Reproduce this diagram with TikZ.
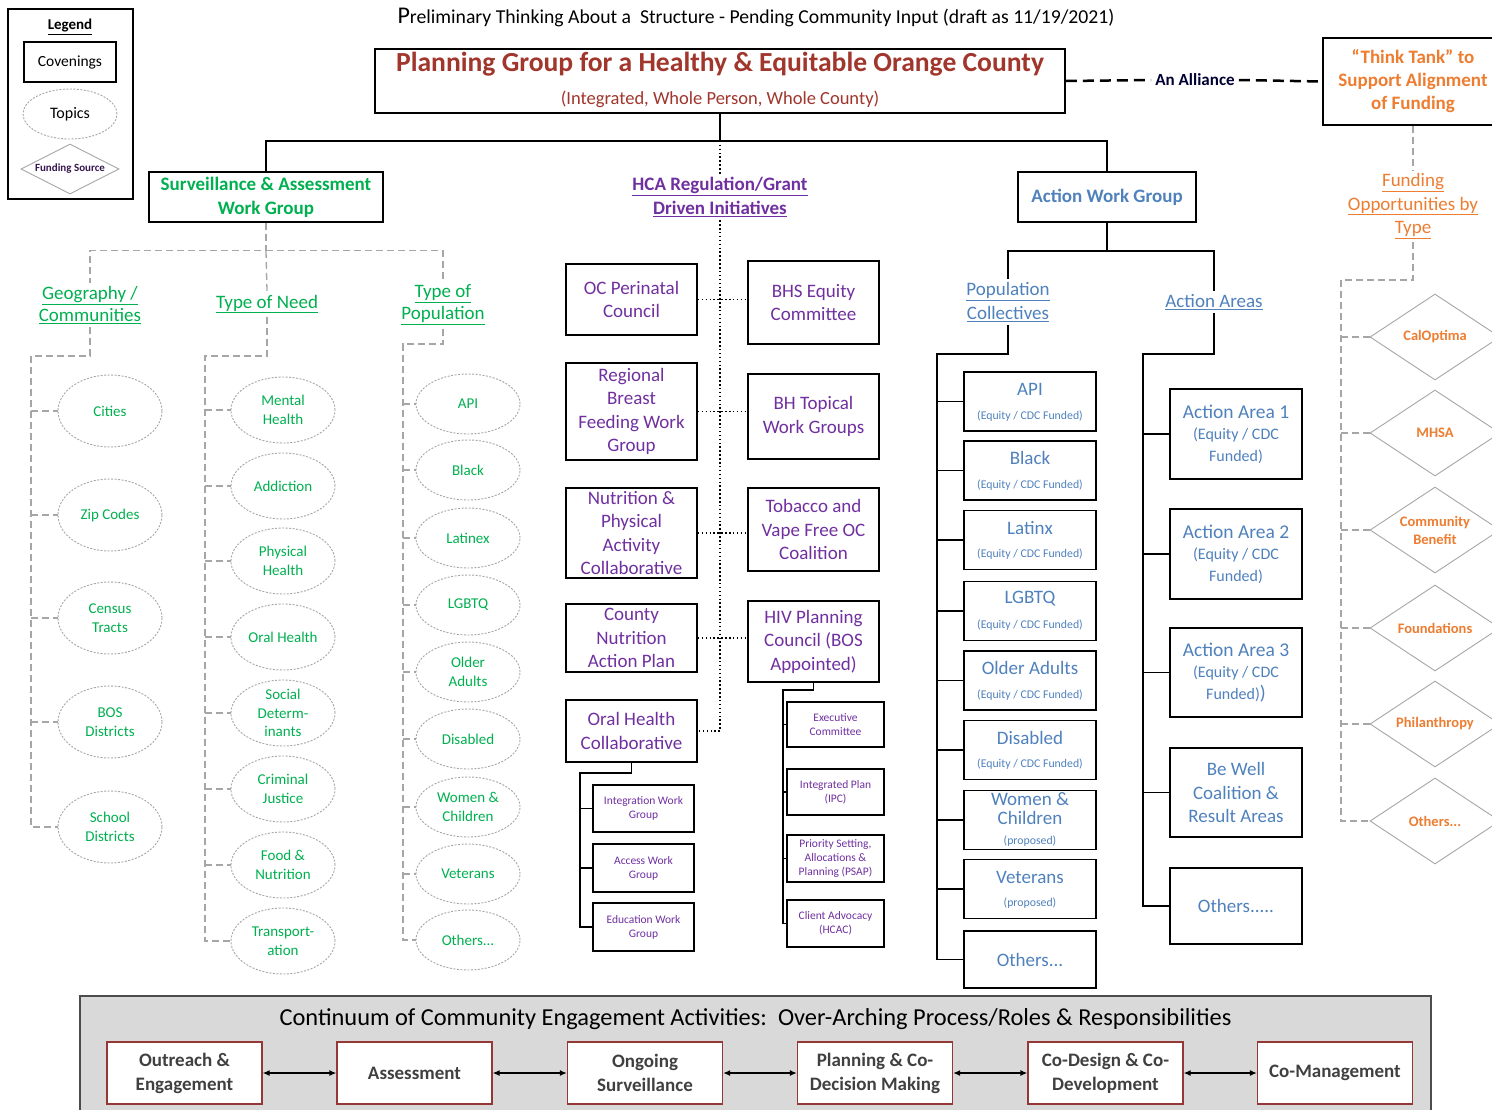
\documentclass[tikz,border=0pt]{standalone}
\usepackage{fontspec}
\setmainfont{Carlito}
\usetikzlibrary{shapes.geometric,arrows.meta}
\definecolor{tred}{RGB}{160,54,44}
\definecolor{tgreen}{RGB}{0,176,80}
\definecolor{tpurple}{RGB}{112,48,160}
\definecolor{tblue}{RGB}{79,129,189}
\definecolor{torange}{RGB}{237,125,49}
\definecolor{tgray}{RGB}{166,166,166}
\definecolor{bred}{RGB}{149,55,53}
\definecolor{panel}{RGB}{217,217,217}
\definecolor{tdark}{RGB}{64,64,64}
\newcommand\fsz[2]{\fontsize{#1}{#2}\selectfont}
\tikzset{
 box/.style={draw=black, line width=1.6pt, fill=white, align=center, inner sep=0pt},
 topic/.style={ellipse, draw=tgray, dash pattern=on 2pt off 1.5pt, line width=0.9pt, inner sep=0pt, minimum width=104},
 topictext/.style={text=tgreen, align=center, font=\fsz{15}{18.5}},
 fund/.style={diamond, draw=tgray, line width=0.9pt, inner sep=0pt, minimum width=130, minimum height=86},
 fundtext/.style={text=torange, align=center, font=\bfseries\fsz{14.5}{18}},
 tree/.style={draw=black, line width=1.5pt},
 gline/.style={draw=tgray, line width=1.3pt, dash pattern=on 7pt off 4pt},
 dline/.style={draw=black, line width=1.5pt, dash pattern=on 1.5pt off 2.4pt},
 hcabox/.style={box, text=tpurple, font=\fsz{19}{23.5}, minimum width=131},
 hcasub/.style={box, text=tpurple, font=\fsz{11.5}{14}},
 cbox/.style={draw=bred, line width=1.3pt, fill=white, align=center, inner sep=0pt, text=tdark, font=\bfseries\fsz{19}{24}, minimum width=155, minimum height=62},
 arr/.style={line width=1.3pt, {Latex[length=7pt,width=6pt]}-{Latex[length=7pt,width=6pt]}},
 alliance/.style={line width=2.5pt, dash pattern=on 11pt off 6pt},
}
\newcommand\popbox[4]{%
 \node[box, minimum width=132, minimum height=59] (#1) at (1030,#2) {};
 \node[text=tblue, font=\fsz{19}{22}] (#1t) at ([yshift=12.5pt]#1.center) {#3};
 \node[text=tblue, font=\fsz{11.8}{13}] (#1s) at ([yshift=-14.5pt]#1.center) {#4};}
\begin{document}
\begin{tikzpicture}[x=1pt,y=-1pt]
\useasboundingbox (0,0) rectangle (1492,1109);
\fill[white] (0,0) rectangle (1492,1109);

% Legend
\node[draw=black, line width=1.4pt, minimum width=125, minimum height=190, inner sep=0pt] (legend) at (70.5,104) {};
\node[font=\bfseries\fsz{15}{18}] (legendt) at (70,27) {\underline{Legend}};
\node[box, minimum width=92, minimum height=40, font=\fsz{15.5}{18}] (lcov) at (70,62) {Covenings};
\node[topic, minimum width=94, minimum height=50, label={[font=\fsz{16}{18}]center:Topics}] (ltop) at (70,114) {};
\node[fund, minimum width=98, minimum height=50, label={[font=\bfseries\fsz{11}{13}, text=tpurple!50!black]center:Funding Source}] (lfund) at (70,169) {};

% Title
\node[font=\fsz{19.7}{22}] (title) at (756,17) {{\fsz{24}{22}P}reliminary Thinking About a\ \ Structure - Pending Community Input (draft as 11/19/2021)};

% Main box
\node[box, minimum width=690, minimum height=64] (main) at (720,81) {};
\node[text=tred, font=\bfseries\fsz{27.6}{30}] (maint) at (720,64) {Planning Group for a Healthy \& Equitable Orange County};
\node[text=tred, font=\fsz{18.5}{20}] (mains) at (720,99) {(Integrated, Whole Person, Whole County)};

% Think tank
\node[box, minimum width=180, minimum height=87, text=torange, font=\bfseries\fsz{19}{23}] (tt) at (1413,81.5) {“Think Tank” to\\Support Alignment\\of Funding};
\node[font=\bfseries\fsz{17}{20}, text=black!80!blue, inner sep=4pt] (alli) at (1195,80) {An Alliance};
\draw[alliance] (main.east) -- (alli.west);
\draw[alliance] (alli.east) -- (tt.west);

% Level 1
\node[box, minimum width=234, minimum height=50, text=tgreen, font=\bfseries\fsz{19}{24}] (sa) at (266,197) {Surveillance \& Assessment\\Work Group};
\node[box, minimum width=178, minimum height=50, text=tblue, font=\bfseries\fsz{19}{24}] (awg) at (1107,197) {Action Work Group};
\node[text=tpurple, font=\bfseries\fsz{19}{24}, align=center] (hca) at (720,197) {\underline{HCA Regulation/Grant}\\\underline{Driven Initiatives}};
\draw[tree] (main.south) -- ++(0,27) coordinate (tj) -| (sa.north);
\draw[tree] (tj) -| (awg.north);
\draw[dline] (tj) -- (hca.north);

% Funding opportunities
\node[text=torange, font=\fsz{19}{23.5}, align=center] (fot) at (1413,206) {\underline{Funding}\\\underline{Opportunities by}\\\underline{Type}};
\draw[gline] (fot.north |- tt.south) -- (fot.north);
\coordinate (fj) at (1341,280);
\node[fund, label={[fundtext]center:CalOptima}] (f1) at (1435,337) {};
\node[fund, label={[fundtext]center:MHSA}] (f2) at (1435,433) {};
\node[fund, label={[fundtext]center:Community\\Benefit}] (f3) at (1435,530) {};
\node[fund, label={[fundtext]center:Foundations}] (f4) at (1435,628) {};
\node[fund, label={[fundtext]center:Philanthropy}] (f5) at (1435,724) {};
\node[fund, label={[fundtext]center:Others...}] (f6) at (1435,821) {};
\draw[gline] (fot.south) |- (fj) |- (f6.west);
\foreach \i in {1,...,5} {\draw[gline] (f\i.west -| fj) -- (f\i.west);}

% Surveillance subtree
\node[text=tgreen, font=\fsz{19}{22}, align=center] (geo) at (90,305) {\underline{Geography /}\\\underline{Communities}};
\node[text=tgreen, font=\fsz{19}{22}, align=center] (need) at (267,304) {\underline{Type of Need}};
\node[text=tgreen, font=\fsz{19}{22}, align=center] (pop) at (443,305) {\underline{Type of}\\\underline{Population}};
\draw[gline] (sa.south) -- ++(0,28) coordinate (sj) -| (geo.north);
\draw[gline] (sj) -| (pop.north);
\draw[gline] (sj) -- (need.north);

\node[topic, minimum height=72, label={[topictext]center:Cities}] (g1) at (110,411) {};
\node[topic, minimum height=72, label={[topictext]center:Zip Codes}] (g2) at (110,515) {};
\node[topic, minimum height=72, label={[topictext]center:Census\\Tracts}] (g3) at (110,618) {};
\node[topic, minimum height=72, label={[topictext]center:BOS\\Districts}] (g4) at (110,722) {};
\node[topic, minimum height=72, label={[topictext]center:School\\Districts}] (g5) at (110,827) {};
\coordinate (gj) at (31,356);
\draw[gline] (geo.south) |- (gj) |- (g5.west);
\foreach \i in {1,...,4} {\draw[gline] (g\i.west -| gj) -- (g\i.west);}

\node[topic, minimum height=66, label={[topictext]center:Mental\\Health}] (n1) at (283,410) {};
\node[topic, minimum height=66, label={[topictext]center:Addiction}] (n2) at (283,486) {};
\node[topic, minimum height=66, label={[topictext]center:Physical\\Health}] (n3) at (283,561) {};
\node[topic, minimum height=66, label={[topictext]center:Oral Health}] (n4) at (283,637) {};
\node[topic, minimum height=66, label={[topictext]center:Social\\Determ-\\inants}] (n5) at (283,713) {};
\node[topic, minimum height=66, label={[topictext]center:Criminal\\Justice}] (n6) at (283,789) {};
\node[topic, minimum height=66, label={[topictext]center:Food \&\\Nutrition}] (n7) at (283,865) {};
\node[topic, minimum height=66, label={[topictext]center:Transport-\\ation}] (n8) at (283,941) {};
\coordinate (nj) at (205,356);
\draw[gline] (need.south) |- (nj) |- (n8.west);
\foreach \i in {1,...,7} {\draw[gline] (n\i.west -| nj) -- (n\i.west);}

\node[topic, minimum height=60, label={[topictext]center:API}] (q1) at (468,404) {};
\node[topic, minimum height=60, label={[topictext]center:Black}] (q2) at (468,470) {};
\node[topic, minimum height=60, label={[topictext]center:Latinex}] (q3) at (468,538) {};
\node[topic, minimum height=60, label={[topictext]center:LGBTQ}] (q4) at (468,605) {};
\node[topic, minimum height=60, label={[topictext]center:Older\\Adults}] (q5) at (468,672) {};
\node[topic, minimum height=60, label={[topictext]center:Disabled}] (q6) at (468,739) {};
\node[topic, minimum height=60, label={[topictext]center:Women \&\\Children}] (q7) at (468,807) {};
\node[topic, minimum height=60, label={[topictext]center:Veterans}] (q8) at (468,874) {};
\node[topic, minimum height=60, label={[topictext]center:Others...}] (q9) at (468,940) {};
\coordinate (qj) at (403,344);
\draw[gline] (pop.south) |- (qj) |- (q9.west);
\foreach \i in {1,...,8} {\draw[gline] (q\i.west -| qj) -- (q\i.west);}

% HCA column
\node[hcabox, minimum height=71] (oc) at (631.5,299.5) {OC Perinatal\\Council};
\node[hcabox, minimum height=97] (rb) at (631.5,411.5) {Regional\\Breast\\Feeding Work\\Group};
\node[hcabox, minimum height=90] (np) at (631.5,533) {Nutrition \&\\Physical\\Activity\\Collaborative};
\node[hcabox, minimum height=68] (cn) at (631.5,638) {County\\Nutrition\\Action Plan};
\node[hcabox, minimum height=62] (oral) at (631.5,731) {Oral Health\\Collaborative};
\node[hcabox, minimum height=83] (bhs) at (813.5,302.5) {BHS Equity\\Committee};
\node[hcabox, minimum height=85] (bht) at (813.5,416.5) {BH Topical\\Work Groups};
\node[hcabox, minimum height=83] (tob) at (813.5,529.5) {Tobacco and\\Vape Free OC\\Coalition};
\node[hcabox, minimum height=81] (hiv) at (813.5,641.5) {HIV Planning\\Council (BOS\\Appointed)};
\draw[dline] (oc.east) -- (bhs.west |- oc.east);
\draw[dline] (rb.east) -- (bht.west |- rb.east);
\draw[dline] (np.east) -- (tob.west |- np.east);
\draw[dline] (cn.east) -- (hiv.west |- cn.east);
\draw[dline] (hca.south) |- (oral.east);

\node[hcasub, minimum width=101, minimum height=47] (ow1) at (643.5,808.5) {Integration Work\\Group};
\node[hcasub, minimum width=101, minimum height=48] (ow2) at (643.5,868) {Access Work\\Group};
\node[hcasub, minimum width=101, minimum height=48] (ow3) at (643.5,927) {Education Work\\Group};
\coordinate (oj) at (580,773);
\draw[tree] (oral.south) |- (oj) |- (ow3.west);
\draw[tree] (ow1.west -| oj) -- (ow1.west);
\draw[tree] (ow2.west -| oj) -- (ow2.west);

\node[hcasub, minimum width=97, minimum height=45] (hw1) at (835.5,724.5) {Executive\\Committee};
\node[hcasub, minimum width=97, minimum height=46] (hw2) at (835.5,792) {Integrated Plan\\(IPC)};
\node[hcasub, minimum width=97, minimum height=47] (hw3) at (835.5,858.5) {Priority Setting,\\Allocations \&\\Planning (PSAP)};
\node[hcasub, minimum width=97, minimum height=47] (hw4) at (835.5,923.5) {Client Advocacy\\(HCAC)};
\coordinate (hj) at (783,690);
\draw[tree] (hiv.south) |- (hj) |- (hw4.west);
\foreach \i in {1,2,3} {\draw[tree] (hw\i.west -| hj) -- (hw\i.west);}

% Action work group subtree
\node[text=tblue, font=\fsz{19}{24}, align=center] (pc) at (1008,302) {\underline{Population}\\\underline{Collectives}};
\node[text=tblue, font=\fsz{19}{24}, align=center] (aa) at (1214,302) {\underline{Action Areas}};
\draw[tree] (awg.south) -- ++(0,28) coordinate (aj) -| (pc.north);
\draw[tree] (aj) -| (aa.north);

\popbox{p1}{401.5}{API}{(Equity / CDC Funded)}
\popbox{p2}{470.5}{Black}{(Equity / CDC Funded)}
\popbox{p3}{540}{Latinx}{(Equity / CDC Funded)}
\popbox{p4}{611}{LGBTQ}{(Equity / CDC Funded)}
\popbox{p5}{680.5}{Older Adults}{(Equity / CDC Funded)}
\popbox{p6}{750}{Disabled}{(Equity / CDC Funded)}
\node[box, minimum width=132, minimum height=59] (p7) at (1030,820) {};
\node[text=tblue, font=\fsz{19}{19}, align=center] (p7t) at ([yshift=11.5pt]p7.center) {Women \&\\Children};
\node[text=tblue, font=\fsz{11.8}{13}] (p7s) at ([yshift=-21pt]p7.center) {(proposed)};
\node[box, minimum width=132, minimum height=59] (p8) at (1030,889) {};
\node[text=tblue, font=\fsz{19}{22}] (p8t) at ([yshift=12pt]p8.center) {Veterans};
\node[text=tblue, font=\fsz{11.8}{13}] (p8s) at ([yshift=-14pt]p8.center) {(proposed)};
\node[box, minimum width=132, minimum height=57, text=tblue, font=\fsz{19}{22}] (p9) at (1030,959.5) {Others...};
\coordinate (pcj) at (937,354);
\draw[tree] (pc.south) |- (pcj) |- (p9.west);
\foreach \i in {1,...,8} {\draw[tree] (p\i.west -| pcj) -- (p\i.west);}

\node[box, minimum width=132, minimum height=90, text=tblue, font=\fsz{16}{21.5}] (a1) at (1236,434) {{\fsz{19.5}{21.5}Action Area 1}\\(Equity / CDC\\Funded)};
\node[box, minimum width=132, minimum height=90, text=tblue, font=\fsz{16}{21.5}] (a2) at (1236,554) {{\fsz{19.5}{21.5}Action Area 2}\\(Equity / CDC\\Funded)};
\node[box, minimum width=132, minimum height=89, text=tblue, font=\fsz{16}{21.5}] (a3) at (1236,672.5) {{\fsz{19.5}{21.5}Action Area 3}\\(Equity / CDC\\Funded){\fsz{19.5}{21.5})}};
\node[box, minimum width=132, minimum height=89, text=tblue, font=\fsz{19}{23.5}] (a4) at (1236,792.5) {Be Well\\Coalition \&\\Result Areas};
\node[box, minimum width=132, minimum height=76, text=tblue, font=\fsz{19}{23}] (a5) at (1236,906) {Others.....};
\coordinate (aaj) at (1143,354);
\draw[tree] (aa.south) |- (aaj) |- (a5.west);
\foreach \i in {1,...,4} {\draw[tree] (a\i.west -| aaj) -- (a\i.west);}

% Bottom panel
\node[draw=black!70, line width=1.3pt, fill=panel, minimum width=1351, minimum height=124, inner sep=0pt] (panel) at (755.5,1058) {};
\node[font=\fsz{24.4}{26}] (paneltitle) at (755.5,1019) {Continuum of Community Engagement Activities:\ \ Over-Arching Process/Roles \& Responsibilities};
\node[cbox] (c1) at (184.5,1073) {Outreach \&\\Engagement};
\node[cbox] (c2) at (414.5,1073) {Assessment};
\node[cbox] (c3) at (645,1073) {Ongoing\\Surveillance};
\node[cbox] (c4) at (875,1073) {Planning \& Co-\\Decision Making};
\node[cbox] (c5) at (1105.5,1073) {Co-Design \& Co-\\Development};
\node[cbox] (c6) at (1335,1073) {Co-Management};
\foreach \a/\b in {1/2,2/3,3/4,4/5,5/6} {\draw[arr] (c\a.east) -- (c\b.west);}
\end{tikzpicture}
\end{document}
